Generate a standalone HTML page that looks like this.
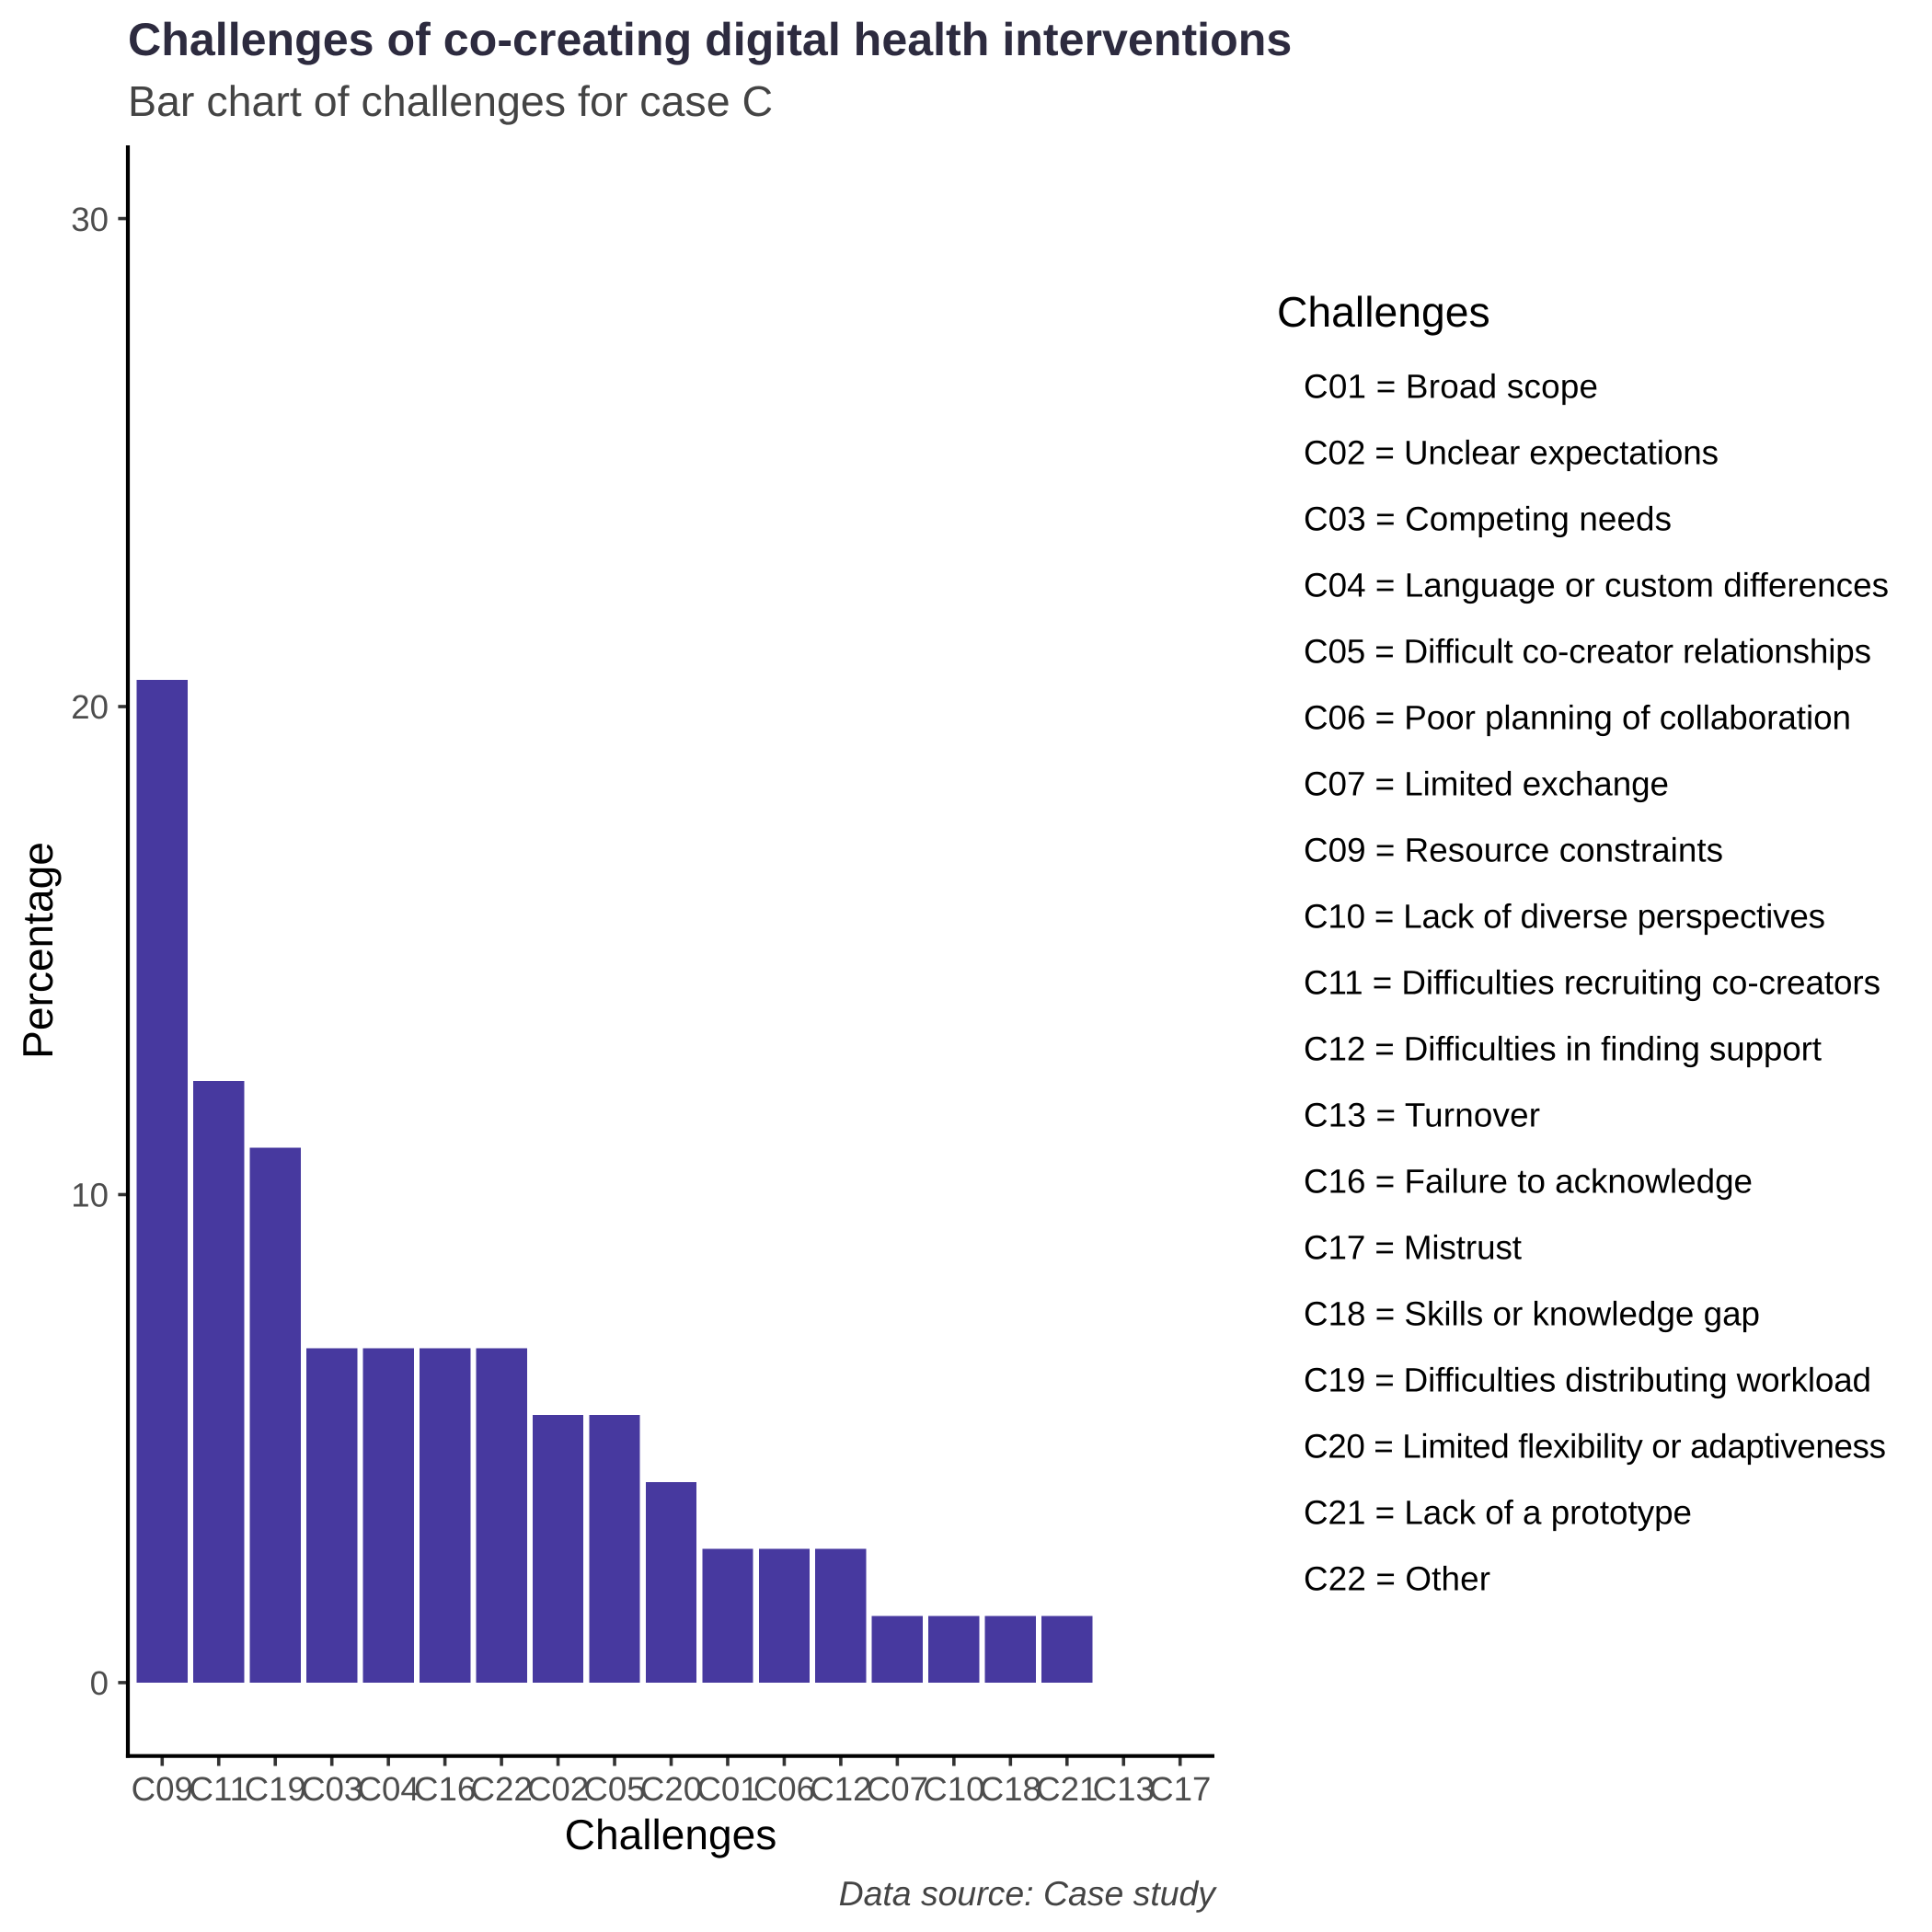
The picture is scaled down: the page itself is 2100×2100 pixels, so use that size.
<!DOCTYPE html>
<html lang="en">
<head>
<meta charset="utf-8">
<title>Challenges of co-creating digital health interventions</title>
<style>
html,body{margin:0;padding:0;background:#fff;}
svg{display:block;}
text{font-family:"Liberation Sans",Arial,sans-serif;text-rendering:geometricPrecision;}
</style>
</head>
<body>
<svg id="chart" xmlns="http://www.w3.org/2000/svg" width="2100" height="2100" viewBox="0 0 2100 2100">
  <rect x="0" y="0" width="2100" height="2100" fill="#ffffff"/>
  <text x="139" y="60" font-size="50.16" font-weight="700" fill="#2d2b3f">Challenges of co-creating digital health interventions</text>
  <text x="139" y="126" font-size="46.55" fill="#444444">Bar chart of challenges for case C</text>
  <g id="bars" shape-rendering="crispEdges"></g>
  <g id="y-ticks"></g>
  <g id="x-ticks"></g>
  <line x1="139" y1="158" x2="139" y2="1910.8" stroke="#000000" stroke-width="4.2"/>
  <line x1="136.9" y1="1908.7" x2="1320" y2="1908.7" stroke="#000000" stroke-width="4.2"/>
  <text transform="translate(57,1033) rotate(-90)" text-anchor="middle" font-size="46.1" fill="#000000">Percentage</text>
  <text x="729" y="2010" text-anchor="middle" font-size="46.1" fill="#000000">Challenges</text>
  <text x="1321" y="2071" text-anchor="end" font-size="37.4" font-style="italic" fill="#444444">Data source: Case study</text>
  <g id="legend">
    <text x="1388" y="355" font-size="46.3" fill="#000000">Challenges</text>
  </g>
</svg>
<script>
const categories = ["C09","C11","C19","C03","C04","C16","C22","C02","C05","C20","C01","C06","C12","C07","C10","C18","C21","C13","C17"];
const percentages = [20.55,12.33,10.96,6.85,6.85,6.85,6.85,5.48,5.48,4.11,2.74,2.74,2.74,1.37,1.37,1.37,1.37,0,0];
const yTickValues = [0,10,20,30];
const legendEntries = [
  "C01 = Broad scope","C02 = Unclear expectations","C03 = Competing needs",
  "C04 = Language or custom differences","C05 = Difficult co-creator relationships",
  "C06 = Poor planning of collaboration","C07 = Limited exchange","C09 = Resource constraints",
  "C10 = Lack of diverse perspectives","C11 = Difficulties recruiting co-creators",
  "C12 = Difficulties in finding support","C13 = Turnover","C16 = Failure to acknowledge",
  "C17 = Mistrust","C18 = Skills or knowledge gap","C19 = Difficulties distributing workload",
  "C20 = Limited flexibility or adaptiveness","C21 = Lack of a prototype","C22 = Other"
];
const legendTextWidths = [320,451,400,636,617,595,397,456,567,627,563,257,488,237,496,617,633,422,203];

const NS = "http://www.w3.org/2000/svg";
const panelLeft = 139.4, panelRight = 1319.6, panelTop = 158, panelBottom = 1908.5;
const yMin = -1.5, yMax = 31.5;
const barFraction = 0.9;
const xStep = (panelRight - panelLeft) / (categories.length - 1 + 1.2);
const xScale = i => panelLeft + (0.6 + i) * xStep;
const yScale = v => panelBottom - (v - yMin) / (yMax - yMin) * (panelBottom - panelTop);

const barsGroup = document.getElementById("bars");
const xTicksGroup = document.getElementById("x-ticks");
const yTicksGroup = document.getElementById("y-ticks");
const legendGroup = document.getElementById("legend");

categories.forEach((cat, i) => {
  const cx = xScale(i);
  const w = xStep * barFraction;
  const v = percentages[i];
  const bar = document.createElementNS(NS, "rect");
  
  
  bar.setAttribute("x", cx - w / 2);
  bar.setAttribute("width", w);
  bar.setAttribute("y", yScale(v));
  bar.setAttribute("height", Math.max(0, yScale(0) - yScale(v)));
  bar.setAttribute("fill", "#47399f");
  barsGroup.appendChild(bar);

  const tick = document.createElementNS(NS, "line");
  
  
  tick.setAttribute("x1", cx);
  tick.setAttribute("x2", cx);
  tick.setAttribute("y1", panelBottom);
  tick.setAttribute("y2", panelBottom + 11);
  tick.setAttribute("stroke", "#333333");
  tick.setAttribute("stroke-width", "3.6");
  xTicksGroup.appendChild(tick);

  const label = document.createElementNS(NS, "text");
  
  
  label.setAttribute("x", cx);
  label.setAttribute("y", 1957);
  label.setAttribute("text-anchor", "middle");
  label.setAttribute("font-size", "36.67");
  label.setAttribute("fill", "#4d4d4d");
  label.textContent = cat;
  xTicksGroup.appendChild(label);
});

yTickValues.forEach(v => {
  const y = yScale(v);
  const tick = document.createElementNS(NS, "line");
  
  
  tick.setAttribute("x1", panelLeft - 11);
  tick.setAttribute("x2", panelLeft);
  tick.setAttribute("y1", y);
  tick.setAttribute("y2", y);
  tick.setAttribute("stroke", "#333333");
  tick.setAttribute("stroke-width", "3.6");
  yTicksGroup.appendChild(tick);

  const label = document.createElementNS(NS, "text");
  
  
  label.setAttribute("x", 118);
  label.setAttribute("y", y + 13.2);
  label.setAttribute("text-anchor", "end");
  label.setAttribute("font-size", "36.67");
  label.setAttribute("fill", "#4d4d4d");
  label.textContent = v;
  yTicksGroup.appendChild(label);
});

legendEntries.forEach((entry, i) => {
  const item = document.createElementNS(NS, "text");
  
  
  item.setAttribute("x", 1417);
  item.setAttribute("y", 432.3 + i * 72);
  item.setAttribute("font-size", "36.8");
  item.setAttribute("fill", "#000000");
  item.setAttribute("textLength", legendTextWidths[i]);
  item.setAttribute("lengthAdjust", "spacing");
  item.textContent = entry;
  legendGroup.appendChild(item);
});
</script>
</body>
</html>
